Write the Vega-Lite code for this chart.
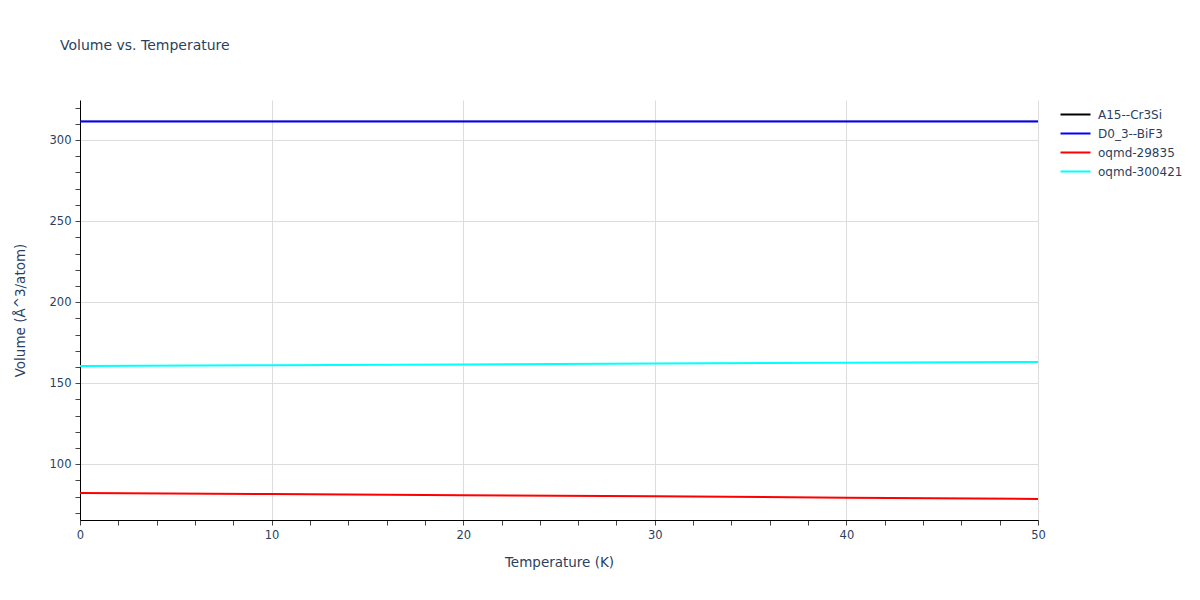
{
  "$schema": "https://vega.github.io/schema/vega-lite/v6.json",
  "description": "Volume vs. Temperature",
  "autosize": "none",
  "width": 958,
  "height": 420,
  "padding": {"left": 80, "top": 100, "right": 162, "bottom": 80},
  "background": "white",
  "title": {
    "text": "Volume vs. Temperature",
    "anchor": "start",
    "frame": "group",
    "dx": -20,
    "offset": 47,
    "font": "DejaVu Sans",
    "fontSize": 14,
    "fontWeight": "normal",
    "color": "#2a3f5f"
  },
  "config": {
    "view": {"stroke": null},
    "font": "DejaVu Sans"
  },
  "data": {
    "values": [
      {"series": "A15--Cr3Si", "T": 0, "V": 311.5},
      {"series": "A15--Cr3Si", "T": 10, "V": 311.5},
      {"series": "A15--Cr3Si", "T": 20, "V": 311.5},
      {"series": "A15--Cr3Si", "T": 30, "V": 311.5},
      {"series": "A15--Cr3Si", "T": 40, "V": 311.5},
      {"series": "A15--Cr3Si", "T": 50, "V": 311.5},
      {"series": "D0_3--BiF3", "T": 0, "V": 311.5},
      {"series": "D0_3--BiF3", "T": 10, "V": 311.5},
      {"series": "D0_3--BiF3", "T": 20, "V": 311.5},
      {"series": "D0_3--BiF3", "T": 30, "V": 311.5},
      {"series": "D0_3--BiF3", "T": 40, "V": 311.5},
      {"series": "D0_3--BiF3", "T": 50, "V": 311.5},
      {"series": "oqmd-29835", "T": 0, "V": 82.2},
      {"series": "oqmd-29835", "T": 10, "V": 81.6},
      {"series": "oqmd-29835", "T": 20, "V": 80.9},
      {"series": "oqmd-29835", "T": 30, "V": 80.2},
      {"series": "oqmd-29835", "T": 40, "V": 79.4},
      {"series": "oqmd-29835", "T": 50, "V": 78.6},
      {"series": "oqmd-300421", "T": 0, "V": 160.6},
      {"series": "oqmd-300421", "T": 10, "V": 161.1},
      {"series": "oqmd-300421", "T": 20, "V": 161.6},
      {"series": "oqmd-300421", "T": 30, "V": 162.1},
      {"series": "oqmd-300421", "T": 40, "V": 162.6},
      {"series": "oqmd-300421", "T": 50, "V": 163.1}
    ]
  },
  "encoding": {
    "x": {
      "field": "T",
      "type": "quantitative",
      "title": "Temperature (K)",
      "scale": {"domain": [0, 50], "nice": false, "zero": false},
      "axis": {
        "values": [0, 2, 4, 6, 8, 10, 12, 14, 16, 18, 20, 22, 24, 26, 28, 30, 32, 34, 36, 38, 40, 42, 44, 46, 48, 50],
        "labelExpr": "datum.value % 10 === 0 ? datum.label : ''",
        "labelFlush": false,
        "gridColor": "#dddddd",
        "gridOpacity": {"condition": {"test": "datum.value % 10 === 0 && datum.value > 0", "value": 1}, "value": 0},
        "domainColor": "#000000",
        "tickColor": "#444444",
        "tickSize": 5,
        "labelColor": "#2a3f5f",
        "labelFontSize": 11.5,
        "labelPadding": 4,
        "titleColor": "#2a3f5f",
        "titleFontSize": 13.5,
        "titleFontWeight": "normal",
        "titlePadding": 15
      }
    },
    "y": {
      "field": "V",
      "type": "quantitative",
      "title": "Volume (Å^3/atom)",
      "scale": {"domain": [65.6, 324.7], "nice": false, "zero": false},
      "axis": {
        "values": [70, 80, 90, 100, 110, 120, 130, 140, 150, 160, 170, 180, 190, 200, 210, 220, 230, 240, 250, 260, 270, 280, 290, 300, 310, 320],
        "labelExpr": "datum.value % 50 === 0 ? datum.label : ''",
        "gridColor": "#dddddd",
        "gridOpacity": {"condition": {"test": "datum.value % 50 === 0", "value": 1}, "value": 0},
        "domainColor": "#000000",
        "tickColor": "#444444",
        "tickSize": 5,
        "labelColor": "#2a3f5f",
        "labelFontSize": 11.5,
        "labelPadding": 4,
        "titleColor": "#2a3f5f",
        "titleFontSize": 13.5,
        "titleFontWeight": "normal",
        "titlePadding": 22
      }
    },
    "color": {
      "field": "series",
      "type": "nominal",
      "title": null,
      "scale": {
        "domain": ["A15--Cr3Si", "D0_3--BiF3", "oqmd-29835", "oqmd-300421"],
        "range": ["#000000", "#0000ff", "#ff0000", "#00ffff"]
      },
      "legend": {
        "orient": "none",
        "legendX": 987,
        "legendY": 6,
        "symbolType": "M-2,0L2,0",
        "symbolSize": 225,
        "symbolStrokeWidth": 2,
        "rowPadding": 4,
        "labelFontSize": 12,
        "labelColor": "#2a3f5f",
        "labelOffset": 14
      }
    }
  },
  "layer": [
    {
      "transform": [{"filter": "datum.series === 'A15--Cr3Si'"}],
      "mark": {"type": "line", "strokeWidth": 1.2, "clip": true}
    },
    {
      "transform": [{"filter": "datum.series !== 'A15--Cr3Si'"}],
      "mark": {"type": "line", "strokeWidth": 2, "clip": true}
    }
  ]
}
